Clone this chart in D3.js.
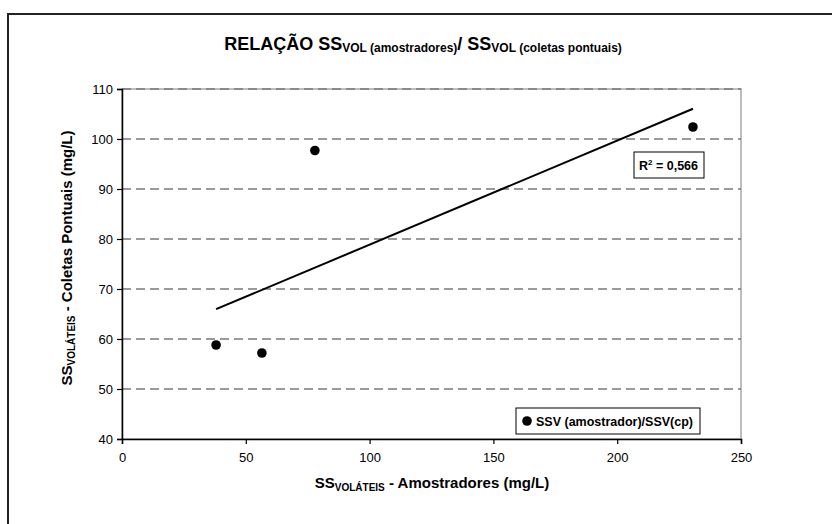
<!DOCTYPE html>
<html>
<head>
<meta charset="utf-8">
<script src="https://cdn.jsdelivr.net/npm/d3@7"></script>
<style>
  html, body { margin: 0; padding: 0; background: #fff; }
  svg { display: block; font-family: "Liberation Sans", Arial, sans-serif; }
</style>
</head>
<body>
<svg id="chart" width="832" height="524"></svg>
<script>
// SSV measured by the samplers vs. SSV from spot collections (mg/L)
const ssvAmostrador = [38.0, 56.5, 77.9, 230.6];
const ssvPontual    = [58.8, 57.2, 97.7, 102.4];
const xTicks = [0, 50, 100, 150, 200, 250];
const yTicks = [40, 50, 60, 70, 80, 90, 100, 110];
const r2Label = "0,566";
const legendLabel = "SSV (amostrador)/SSV(cp)";

const svg = d3.select("#chart");
const plot = { left: 122, right: 741, top: 89, bottom: 439 };

const x = d3.scaleLinear().domain([0, 250]).range([plot.left, plot.right]);
const y = d3.scaleLinear().domain([40, 110]).range([plot.bottom, plot.top]);

// outer chart frame (runs past the right and bottom edges)
svg.append("rect")
  .attr("x", 8).attr("y", 14).attr("width", 840).attr("height", 540)
  .attr("fill", "none").attr("stroke", "#222").attr("stroke-width", 2);

// plot area frame
svg.append("rect")
  .attr("x", plot.left).attr("y", plot.top)
  .attr("width", plot.right - plot.left).attr("height", plot.bottom - plot.top)
  .attr("fill", "#fff").attr("stroke", "#a8a8a8").attr("stroke-width", 1.5);

// dashed horizontal gridlines
svg.append("g").selectAll("line")
  .data(yTicks.filter(v => v > 40))
  .join("line")
  .attr("x1", plot.left).attr("x2", plot.right)
  .attr("y1", d => y(d)).attr("y2", d => y(d))
  .attr("stroke", "#7a7a7a").attr("stroke-width", 1.5)
  .attr("stroke-dasharray", "9,5");

// axes
const yAxis = d3.axisLeft(y).tickValues(yTicks).tickSize(5).tickPadding(4);
const gy = svg.append("g").attr("transform", `translate(${plot.left},0)`).call(yAxis);
const xAxis = d3.axisBottom(x).tickValues(xTicks).tickSize(5).tickPadding(9);
const gx = svg.append("g").attr("transform", `translate(0,${plot.bottom})`).call(xAxis);
[gx, gy].forEach(g => {
  g.select(".domain").attr("stroke", "#000").attr("stroke-width", 1.5);
  g.selectAll(".tick line").attr("stroke", "#000").attr("stroke-width", 1.2);
  g.selectAll(".tick text").attr("fill", "#000")
    .style("font-family", "'Liberation Sans', Arial, sans-serif").style("font-size", "13px");
});

// linear trend line fitted to the points
const n = ssvAmostrador.length;
const mx = d3.mean(ssvAmostrador), my = d3.mean(ssvPontual);
let sxy = 0, sxx = 0;
for (let i = 0; i < n; i++) {
  sxy += (ssvAmostrador[i] - mx) * (ssvPontual[i] - my);
  sxx += (ssvAmostrador[i] - mx) ** 2;
}
const slope = sxy / sxx, intercept = my - slope * mx;
const xExt = d3.extent(ssvAmostrador);
svg.append("line")
  .attr("x1", x(xExt[0])).attr("y1", y(intercept + slope * xExt[0]))
  .attr("x2", x(xExt[1])).attr("y2", y(intercept + slope * xExt[1]))
  .attr("stroke", "#000").attr("stroke-width", 2);

// data points
svg.append("g").selectAll("circle")
  .data(d3.zip(ssvAmostrador, ssvPontual))
  .join("circle")
  .attr("cx", d => x(d[0])).attr("cy", d => y(d[1]))
  .attr("r", 4.8).attr("fill", "#000");

// R² label box
const r2 = svg.append("g").attr("transform", "translate(634,152)");
r2.append("rect").attr("width", 70).attr("height", 26)
  .attr("fill", "#fff").attr("stroke", "#000").attr("stroke-width", 1);
const r2t = r2.append("text").attr("x", 5).attr("y", 18)
  .style("font-size", "12.5px").style("font-weight", "bold");
r2t.append("tspan").text("R");
r2t.append("tspan").attr("dy", -5).style("font-size", "8px").text("2");
r2t.append("tspan").attr("dy", 5).text(" = " + r2Label);

// legend
const lg = svg.append("g").attr("transform", "translate(516,408)");
lg.append("rect").attr("width", 184).attr("height", 26)
  .attr("fill", "#fff").attr("stroke", "#000").attr("stroke-width", 1);
lg.append("circle").attr("cx", 11).attr("cy", 13).attr("r", 4.8).attr("fill", "#000");
lg.append("text").attr("x", 20).attr("y", 17.5)
  .style("font-size", "12.5px").style("font-weight", "bold").text(legendLabel);

// title
const title = svg.append("text").attr("x", 423).attr("y", 50)
  .attr("text-anchor", "middle").style("font-weight", "bold").style("font-size", "18px");
title.append("tspan").text("RELAÇÃO SS");
title.append("tspan").attr("dy", 2).style("font-size", "12px").text("VOL (amostradores)");
title.append("tspan").attr("dy", -2).text("/ SS");
title.append("tspan").attr("dy", 2).style("font-size", "12px").text("VOL (coletas pontuais)");

// x axis title
const xt = svg.append("text").attr("x", 432).attr("y", 488)
  .attr("text-anchor", "middle").style("font-weight", "bold").style("font-size", "15px");
xt.append("tspan").text("SS");
xt.append("tspan").attr("dy", 3).style("font-size", "10px").text("VOLÁTEIS");
xt.append("tspan").attr("dy", -3).text(" - Amostradores (mg/L)");

// y axis title
const yt = svg.append("text").attr("transform", "translate(72,258) rotate(-90)")
  .attr("text-anchor", "middle").style("font-weight", "bold").style("font-size", "15px");
yt.append("tspan").text("SS");
yt.append("tspan").attr("dy", 3).style("font-size", "10px").text("VOLÁTEIS");
yt.append("tspan").attr("dy", -3).text(" - Coletas Pontuais (mg/L)");
</script>
</body>
</html>
